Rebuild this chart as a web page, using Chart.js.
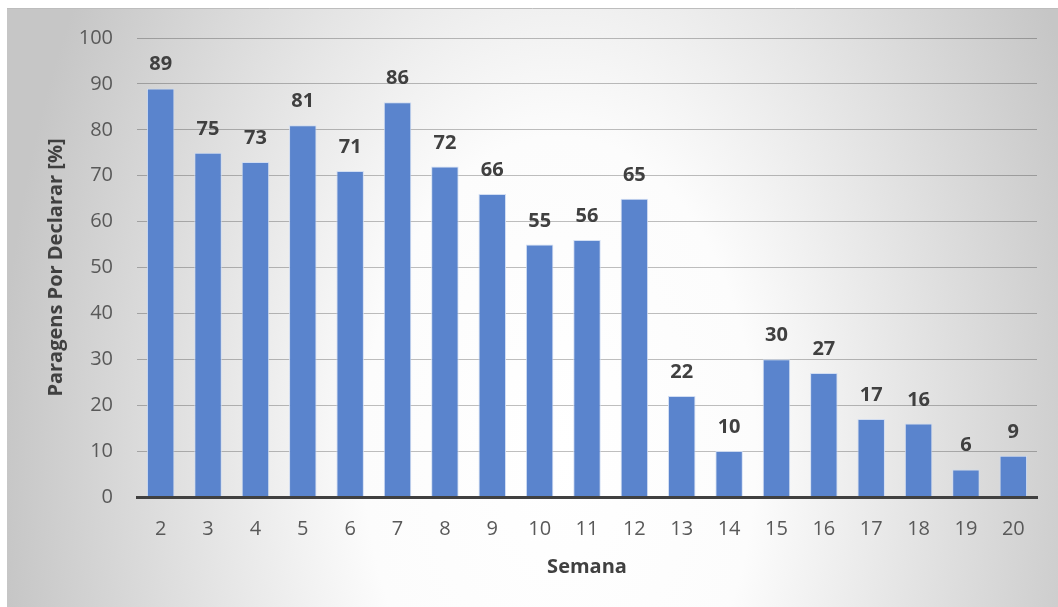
<!DOCTYPE html>
<html>
<head>
<meta charset="utf-8">
<title>Paragens Por Declarar por Semana</title>
<script src="https://cdn.jsdelivr.net/npm/chart.js@4.4.1/dist/chart.umd.min.js"></script>
<style>
  html, body { margin: 0; padding: 0; background: #ffffff; }
  #wrap { position: absolute; left: 0; top: 0; width: 1058px; height: 607px; }
</style>
</head>
<body>
<div id="wrap"><canvas id="chart" width="1058" height="607"></canvas></div>
<script>
// Weeks and the share of stops still to be declared in each
const semanas = ['2','3','4','5','6','7','8','9','10','11','12','13','14','15','16','17','18','19','20'];
const paragensPorDeclarar = [89, 75, 73, 81, 71, 86, 72, 66, 55, 56, 65, 22, 10, 30, 27, 17, 16, 6, 9];
const yTicks = [0, 10, 20, 30, 40, 50, 60, 70, 80, 90, 100];

const FONT = "'Open Sans', 'DejaVu Sans', sans-serif";

// Soft radial panel behind the whole chart
const panelBackground = {
  id: 'panelBackground',
  beforeDraw(chart) {
    const ctx = chart.ctx;
    const x0 = 7, y0 = 8, x1 = chart.width, y1 = chart.height;
    const cx = 560, cy = 450, r = 560, sy = 1.6;
    ctx.save();
    ctx.translate(cx, cy);
    ctx.scale(1, sy);
    const g = ctx.createRadialGradient(0, 0, 0, 0, 0, r);
    g.addColorStop(0, '#ffffff');
    g.addColorStop(0.35, '#fcfcfc');
    g.addColorStop(1, '#c6c6c6');
    ctx.fillStyle = g;
    ctx.fillRect(x0 - cx, (y0 - cy) / sy, x1 - x0, (y1 - y0) / sy);
    ctx.restore();
    ctx.save();
    ctx.strokeStyle = '#bdbdbd';
    ctx.lineWidth = 1;
    ctx.beginPath();
    ctx.moveTo(x0, y0 + 0.5);
    ctx.lineTo(x1, y0 + 0.5);
    ctx.stroke();
    ctx.restore();
  }
};

// Value written above each bar
const barValues = {
  id: 'barValues',
  afterDatasetsDraw(chart) {
    const ctx = chart.ctx;
    const meta = chart.getDatasetMeta(0);
    const data = chart.data.datasets[0].data;
    ctx.save();
    ctx.font = 'bold 20px ' + FONT;
    ctx.fillStyle = '#404040';
    ctx.textAlign = 'center';
    ctx.textBaseline = 'alphabetic';
    meta.data.forEach((bar, i) => {
      ctx.fillText(String(data[i]), bar.x, bar.y - 18);
    });
    ctx.restore();
  }
};

new Chart(document.getElementById('chart'), {
  type: 'bar',
  data: {
    labels: semanas,
    datasets: [{
      data: paragensPorDeclarar,
      backgroundColor: '#5a84cd',
      borderColor: 'rgba(205,218,242,0.9)',
      borderWidth: 1,
      borderSkipped: 'start',
      categoryPercentage: 1,
      barPercentage: 0.58
    }]
  },
  options: {
    responsive: false,
    animation: false,
    events: [],
    layout: { padding: { left: 7, top: 38, right: 21, bottom: 0 } },
    plugins: {
      legend: { display: false },
      tooltip: { enabled: false },
      title: { display: false }
    },
    scales: {
      x: {
        grid: { display: false, drawTicks: false },
        border: { display: true, color: '#404040', width: 3, z: 1 },
        ticks: {
          padding: 20,
          color: '#595959',
          font: { family: FONT, size: 20 },
          maxRotation: 0
        },
        title: {
          display: true,
          text: 'Semana',
          color: '#404040',
          font: { family: FONT, size: 20, weight: 'bold' },
          padding: { top: 0, bottom: 28 }
        },
        afterFit(scale) { scale.height = 110; }
      },
      y: {
        min: 0,
        max: 100,
        afterBuildTicks(scale) { scale.ticks = yTicks.map(v => ({ value: v })); },
        grid: { color: 'rgba(0,0,0,0.25)', lineWidth: 1, drawTicks: false },
        border: { display: false },
        ticks: {
          padding: 24,
          color: '#595959',
          font: { family: FONT, size: 20 }
        },
        title: {
          display: true,
          text: 'Paragens Por Declarar [%]',
          color: '#404040',
          font: { family: FONT, size: 20, weight: 'bold' },
          padding: { top: 37, bottom: 0 }
        },
        afterFit(scale) { scale.width = 130; }
      }
    }
  },
  plugins: [panelBackground, barValues]
});
</script>
</body>
</html>
